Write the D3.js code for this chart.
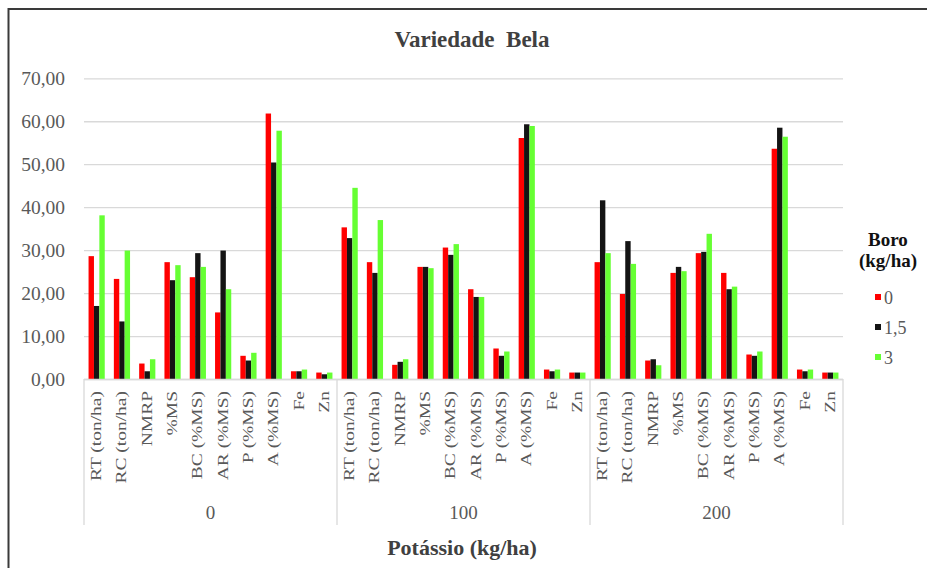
<!DOCTYPE html>
<html>
<head>
<meta charset="utf-8">
<script src="https://cdn.jsdelivr.net/npm/d3@7"></script>
<style>
  body { margin: 0; background: #fff; }
  svg text { font-family: "Liberation Serif", "Times New Roman", serif; }
</style>
</head>
<body>
<svg id="chart"></svg>
<script>
const width = 927;
const height = 568;

const categories = ['RT (ton/ha)', 'RC (ton/ha)', 'NMRP', '%MS', 'BC (%MS)', 'AR (%MS)', 'P (%MS)', 'A (%MS)', 'Fe', 'Zn'];
const groups = ['0', '100', '200'];
const boroLevels = ['0', '1,5', '3'];

// one value per group x category
const boro0 = [28.6, 23.3, 3.6, 27.2, 23.7, 15.5, 5.4, 61.8, 1.8, 1.5,
               35.3, 27.2, 3.3, 26.1, 30.6, 20.9, 7.1, 56.1, 2.2, 1.5,
               27.2, 19.8, 4.3, 24.7, 29.3, 24.7, 5.7, 53.6, 2.2, 1.5];
const boro15 = [17.0, 13.4, 1.8, 23.0, 29.3, 29.9, 4.3, 50.4, 1.8, 1.1,
                32.8, 24.7, 4.0, 26.1, 28.9, 19.1, 5.4, 59.3, 1.8, 1.5,
                41.6, 32.1, 4.6, 26.1, 29.6, 20.9, 5.4, 58.5, 1.8, 1.5];
const boro3 = [38.1, 29.9, 4.6, 26.5, 26.1, 20.9, 6.1, 57.8, 2.2, 1.5,
               44.5, 37.0, 4.6, 25.8, 31.4, 19.1, 6.4, 58.9, 2.2, 1.5,
               29.3, 26.8, 3.2, 25.1, 33.8, 21.5, 6.4, 56.4, 2.2, 1.5];
const yTicks = [0, 10, 20, 30, 40, 50, 60, 70];

const series = [boro0, boro15, boro3];
const colors = ['#ff0000', '#141414', '#66ff33'];

const serif = '"Liberation Serif", "Times New Roman", serif';
const plot = { left: 84, right: 843, top: 78.3, bottom: 379 };

const svg = d3.select('#chart').attr('width', width).attr('height', height)
  .attr('font-family', serif);

// outer frame
svg.append('rect')
  .attr('x', 8.5).attr('y', 9)
  .attr('width', 940).attr('height', 580)
  .attr('fill', 'none').attr('stroke', '#3a3a3a').attr('stroke-width', 2);

const keys = [];
groups.forEach(g => categories.forEach(c => keys.push(g + '|' + c)));

const x = d3.scaleBand().domain(keys).range([plot.left, plot.right])
  .paddingInner(0.36).paddingOuter(0.18);
const xSub = d3.scaleBand().domain(d3.range(series.length)).range([0, x.bandwidth()]);
const xGroup = d3.scaleBand().domain(groups).range([plot.left, plot.right]);
const y = d3.scaleLinear().domain([0, 70]).range([plot.bottom, plot.top]);

const locale = d3.formatLocale({ decimal: ',', thousands: '.', grouping: [3], currency: ['', ''] });
const fmt = locale.format('.2f');

// gridlines + y labels
const yAxis = svg.append('g').attr('transform', `translate(${plot.left},0)`)
  .call(d3.axisLeft(y).tickValues(yTicks).tickFormat(fmt)
    .tickSize(-(plot.right - plot.left)).tickPadding(19))
  .attr('font-family', serif).attr('font-size', 19.5);
yAxis.select('.domain').remove();
yAxis.selectAll('.tick line').attr('stroke', '#d9d9d9').attr('stroke-width', 1.3);
yAxis.selectAll('.tick text').attr('fill', '#595959');

// bars
series.forEach((vals, si) => {
  svg.append('g').selectAll('rect').data(vals).join('rect')
    .attr('x', (d, i) => x(keys[i]) + xSub(si))
    .attr('y', d => y(d))
    .attr('width', xSub.bandwidth())
    .attr('height', d => y(0) - y(d))
    .attr('fill', colors[si]);
});

// category axis line and group separators
svg.append('line')
  .attr('x1', plot.left).attr('x2', plot.right)
  .attr('y1', plot.bottom + 0.5).attr('y2', plot.bottom + 0.5)
  .attr('stroke', '#d9d9d9').attr('stroke-width', 1.3);

const seps = groups.map(g => xGroup(g)).concat([plot.right]);
svg.append('g').selectAll('line').data(seps).join('line')
  .attr('x1', d => d).attr('x2', d => d)
  .attr('y1', plot.bottom).attr('y2', 525)
  .attr('stroke', '#d9d9d9').attr('stroke-width', 1.3);

// rotated category labels
svg.append('g').selectAll('text').data(keys).join('text')
  .attr('transform', d => `translate(${x(d) + x.bandwidth() / 2 + 4.5},391) rotate(-90) scale(1,0.8)`)
  .attr('text-anchor', 'end')
  .attr('fill', '#595959')
  .attr('font-size', 19.5)
  .text(d => d.split('|')[1]);

// group labels
svg.append('g').selectAll('text').data(groups).join('text')
  .attr('x', d => xGroup(d) + xGroup.bandwidth() / 2)
  .attr('y', 519)
  .attr('text-anchor', 'middle')
  .attr('fill', '#595959')
  .attr('font-size', 19)
  .text(d => d);

// title
svg.append('text')
  .attr('x', 472).attr('y', 47)
  .attr('text-anchor', 'middle')
  .attr('fill', '#404040')
  .attr('font-size', 23).attr('font-weight', 'bold')
  .attr('xml:space', 'preserve')
  .text('Variedade  Bela');

// x axis title
svg.append('text')
  .attr('x', 462).attr('y', 555)
  .attr('text-anchor', 'middle')
  .attr('fill', '#404040')
  .attr('font-size', 22).attr('font-weight', 'bold')
  .text('Potássio (kg/ha)');

// legend
const legend = svg.append('g');
legend.append('text').attr('x', 888).attr('y', 246).attr('text-anchor', 'middle')
  .attr('fill', '#111').attr('font-size', 19).attr('font-weight', 'bold').text('Boro');
legend.append('text').attr('x', 888).attr('y', 267).attr('text-anchor', 'middle')
  .attr('fill', '#111').attr('font-size', 19).attr('font-weight', 'bold').text('(kg/ha)');

const legY = d3.scalePoint().domain(boroLevels).range([297, 357]);
const items = legend.selectAll('g.item').data(boroLevels).join('g')
  .attr('class', 'item')
  .attr('transform', d => `translate(0,${legY(d)})`);
items.append('rect').attr('x', 875).attr('y', -3).attr('width', 6).attr('height', 6)
  .attr('fill', (d, i) => colors[i]);
items.append('text').attr('x', 884).attr('y', 6.5)
  .attr('fill', '#595959').attr('font-size', 18)
  .text(d => d);
</script>
</body>
</html>
